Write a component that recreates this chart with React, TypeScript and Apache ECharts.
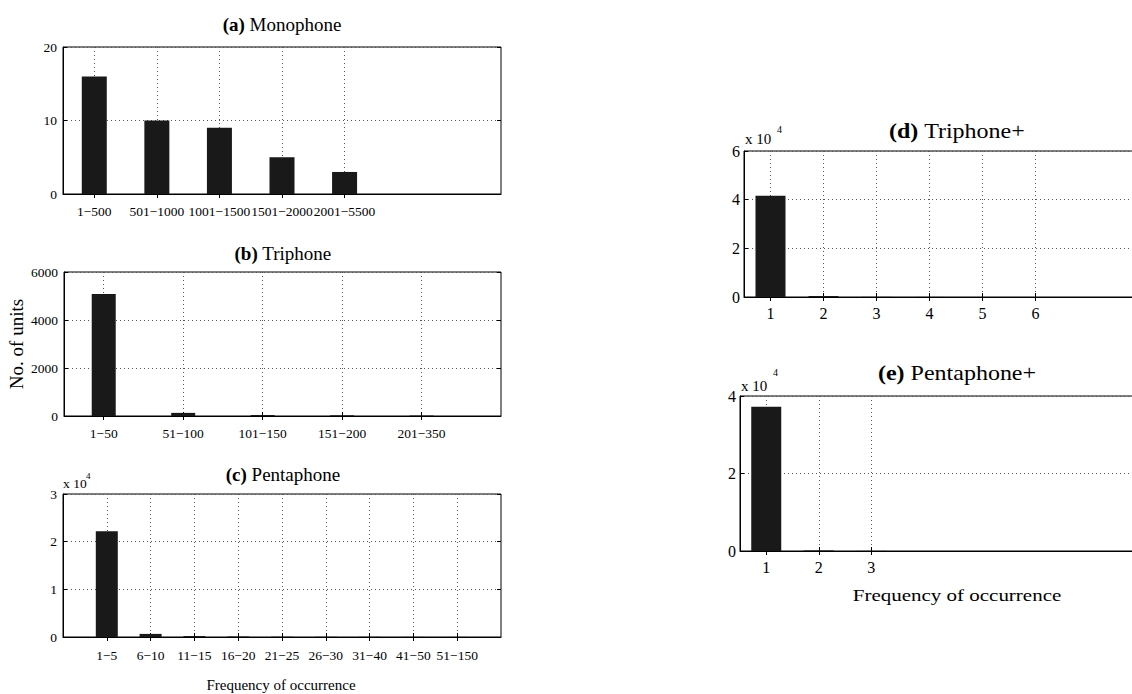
import React, { useEffect, useRef } from "react";
import * as echarts from "echarts";

// ---- data ----
const monoCats = ["1−500", "501−1000", "1001−1500", "1501−2000", "2001−5500"];
const monoVals = [16, 10, 9, 5, 3];
const monoTicks = [0, 10, 20];

const triCats = ["1−50", "51−100", "101−150", "151−200", "201−350"];
const triVals = [5080, 130, 40, 30, 20];
const triTicks = [0, 2000, 4000, 6000];

const pentaCats = ["1−5", "6−10", "11−15", "16−20", "21−25", "26−30", "31−40", "41−50", "51−150"];
const pentaVals = [22200, 650, 200, 100, 60, 40, 30, 20, 10];
const pentaTicks = [0, 10000, 20000, 30000];

const triPlusCats = ["1", "2", "3", "4", "5", "6"];
const triPlusVals = [41600, 400, 50, 20, 10, 5];
const triPlusTicks = [0, 20000, 40000, 60000];

const pentaPlusCats = ["1", "2", "3"];
const pentaPlusVals = [37200, 150, 30];
const pentaPlusTicks = [0, 20000, 40000];

const FONT = "Liberation Serif";

type Panel = {
  tag: string;
  name: string;
  cats: string[];
  vals: number[];
  ticks: number[];
  div: number;
  xlim: [number, number];
  grid: { left: number; top: number; width: number; height: number };
  barW: number;
  fs: number;
  xMargin: number;
  yMargin: number;
  title: [number, number];
  titleFs: number;
  titleScaleX: number;
  exp?: { x: number; y: number; sx: number; sy: number; fs: number; sfs: number };
};

const panels: Panel[] = [
  {
    tag: "(a)", name: "Monophone", cats: monoCats, vals: monoVals, ticks: monoTicks, div: 1,
    xlim: [0.5, 7.5], grid: { left: 63, top: 47, width: 438, height: 147 }, barW: 25, fs: 13.5,
    xMargin: 10, yMargin: 6, title: [282, 24], titleFs: 19, titleScaleX: 1,
  },
  {
    tag: "(b)", name: "Triphone", cats: triCats, vals: triVals, ticks: triTicks, div: 1,
    xlim: [0.5, 6], grid: { left: 64, top: 272, width: 437, height: 144 }, barW: 24, fs: 13.5,
    xMargin: 10, yMargin: 6, title: [283, 253], titleFs: 19, titleScaleX: 1,
  },
  {
    tag: "(c)", name: "Pentaphone", cats: pentaCats, vals: pentaVals, ticks: pentaTicks, div: 10000,
    xlim: [0, 10], grid: { left: 63, top: 494, width: 438, height: 143 }, barW: 22, fs: 13.5,
    xMargin: 11, yMargin: 6, title: [283, 474], titleFs: 19, titleScaleX: 1,
    exp: { x: 63, y: 483, sx: 86, sy: 476, fs: 13.5, sfs: 9 },
  },
  {
    tag: "(d)", name: "Triphone+", cats: triPlusCats, vals: triPlusVals, ticks: triPlusTicks, div: 10000,
    xlim: [0.5, 8.5], grid: { left: 744, top: 151, width: 424, height: 146 }, barW: 30, fs: 16,
    xMargin: 8, yMargin: 4, title: [957, 131], titleFs: 20, titleScaleX: 1.2,
    exp: { x: 745, y: 139, sx: 777, sy: 129, fs: 15, sfs: 10 },
  },
  {
    tag: "(e)", name: "Pentaphone+", cats: pentaPlusCats, vals: pentaPlusVals, ticks: pentaPlusTicks, div: 10000,
    xlim: [0.5, 8.5], grid: { left: 740, top: 396, width: 420, height: 155 }, barW: 30, fs: 16,
    xMargin: 8, yMargin: 4, title: [957, 373], titleFs: 20, titleScaleX: 1.2,
    exp: { x: 741, y: 386, sx: 773, sy: 372, fs: 15, sfs: 10 },
  },
];

function buildOption() {
  const grids: any[] = [];
  const xAxes: any[] = [];
  const yAxes: any[] = [];
  const series: any[] = [];
  const graphics: any[] = [];

  panels.forEach((p, i) => {
    const positions: number[] = [];
    for (let v = p.xlim[0]; v <= p.xlim[1] + 1e-9; v += 0.5) positions.push(v);
    const isCat = (v: number) => Number.isInteger(v) && v >= 1 && v <= p.cats.length;
    const keys = positions.map((v) => "p" + v);
    const labels = positions.map((v) => (isCat(v) ? p.cats[v - 1] : ""));
    const showAt = (idx: number) => isCat(positions[idx]);

    grids.push({ ...p.grid, show: true, borderColor: "#000", borderWidth: 1, backgroundColor: "#fff" });

    const tickStyle = { show: true, inside: true, length: 4, lineStyle: { color: "#000", width: 1 }, interval: (idx: number) => showAt(idx) };
    xAxes.push({
      type: "category", gridIndex: i, data: keys, boundaryGap: false, position: "bottom",
      axisLine: { show: true, lineStyle: { color: "#000", width: 1 } },
      axisTick: tickStyle,
      axisLabel: {
        show: true, interval: (idx: number) => showAt(idx), formatter: (_v: string, idx: number) => labels[idx],
        color: "#000", fontSize: p.fs, fontFamily: FONT, margin: p.xMargin,
      },
      splitLine: { show: true, interval: (idx: number) => showAt(idx), lineStyle: { color: "#555", width: 1, type: [1, 3] } },
    });
    xAxes.push({
      type: "category", gridIndex: i, data: keys, boundaryGap: false, position: "top",
      axisLine: { show: false }, axisTick: tickStyle, axisLabel: { show: false }, splitLine: { show: false },
    });

    const yMax = p.ticks[p.ticks.length - 1];
    const yInt = p.ticks[1] - p.ticks[0];
    const yTick = { show: true, inside: true, length: 4, lineStyle: { color: "#000", width: 1 } };
    yAxes.push({
      type: "value", gridIndex: i, min: 0, max: yMax, interval: yInt, position: "left",
      axisLine: { show: true, lineStyle: { color: "#000", width: 1 } },
      axisTick: yTick,
      axisLabel: { color: "#000", fontSize: p.fs, fontFamily: FONT, margin: p.yMargin, formatter: (v: number) => String(v / p.div) },
      splitLine: { show: true, lineStyle: { color: "#555", width: 1, type: [1, 3] } },
    });
    yAxes.push({
      type: "value", gridIndex: i, min: 0, max: yMax, interval: yInt, position: "right",
      axisLine: { show: false }, axisTick: yTick, axisLabel: { show: false }, splitLine: { show: false },
    });

    series.push({
      type: "bar", xAxisIndex: 2 * i, yAxisIndex: 2 * i, barWidth: p.barW,
      data: positions.map((v) => (isCat(v) ? p.vals[v - 1] : "-")),
      itemStyle: { color: "#191919", borderColor: "#000", borderWidth: 0 },
      silent: true,
    });

    graphics.push({
      type: "text", x: p.title[0], y: p.title[1], scaleX: p.titleScaleX,
      style: {
        text: "{b|" + p.tag + "}{n| " + p.name + "}",
        align: "center", verticalAlign: "middle",
        fontSize: p.titleFs, fontFamily: FONT, fill: "#000",
        rich: {
          b: { fontWeight: "bold", fontSize: p.titleFs, fontFamily: FONT, fill: "#000" },
          n: { fontSize: p.titleFs, fontFamily: FONT, fill: "#000" },
        },
      },
    });
    if (p.exp) {
      graphics.push({
        type: "text", x: p.exp.x, y: p.exp.y,
        style: { text: "x 10", align: "left", verticalAlign: "middle", fontSize: p.exp.fs, fontFamily: FONT, fill: "#000" },
      });
      graphics.push({
        type: "text", x: p.exp.sx, y: p.exp.sy,
        style: { text: "4", align: "left", verticalAlign: "middle", fontSize: p.exp.sfs, fontFamily: FONT, fill: "#000" },
      });
    }
  });

  graphics.push({
    type: "text", x: 16, y: 344, rotation: Math.PI / 2,
    style: { text: "No. of units", align: "center", verticalAlign: "middle", fontSize: 19, fontFamily: FONT, fill: "#000" },
  });
  graphics.push({
    type: "text", x: 281, y: 685,
    style: { text: "Frequency of occurrence", align: "center", verticalAlign: "middle", fontSize: 15, fontFamily: FONT, fill: "#000" },
  });
  graphics.push({
    type: "text", x: 957, y: 595, scaleX: 1.2,
    style: { text: "Frequency of occurrence", align: "center", verticalAlign: "middle", fontSize: 17.5, fontFamily: FONT, fill: "#000" },
  });

  return {
    animation: false,
    backgroundColor: "#fff",
    grid: grids,
    xAxis: xAxes,
    yAxis: yAxes,
    series,
    graphic: graphics,
  };
}

export default function App() {
  const ref = useRef<HTMLDivElement>(null);
  useEffect(() => {
    document.body.style.overflow = "hidden";
    if (!ref.current) return;
    const chart = echarts.init(ref.current, undefined, { renderer: "svg" });
    chart.setOption(buildOption() as any);
    return () => chart.dispose();
  }, []);
  return (
    <div style={{ position: "fixed", left: 0, top: 0, width: 1132, height: 694, overflow: "hidden", background: "#fff" }}>
      <div ref={ref} style={{ width: 1200, height: 694, background: "#fff" }} />
    </div>
  );
}
